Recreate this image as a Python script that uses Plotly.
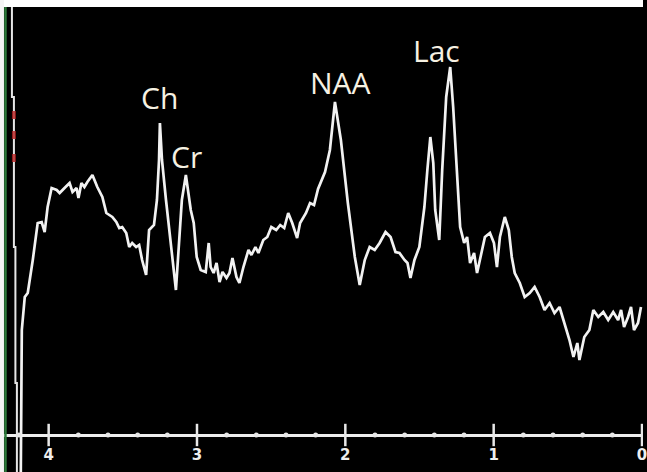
import plotly.graph_objects as go

# Chemical shift (ppm) and signal intensity (arbitrary units)
ppm = [4.188, 4.181, 4.161, 4.141, 4.107, 4.074, 4.047, 4.027, 4.007, 3.980, 3.946, 3.926,
       3.893, 3.859, 3.839, 3.812, 3.799, 3.779, 3.759, 3.739, 3.705, 3.672, 3.638, 3.611,
       3.591, 3.571, 3.544, 3.524, 3.504, 3.477, 3.457, 3.437, 3.410, 3.390, 3.370, 3.343,
       3.323, 3.290, 3.270, 3.256, 3.250, 3.236, 3.209, 3.176, 3.142, 3.102, 3.075, 3.042,
       3.022, 3.002, 2.975, 2.941, 2.921, 2.908, 2.888, 2.868, 2.848, 2.828, 2.801, 2.781,
       2.761, 2.734, 2.714, 2.687, 2.653, 2.633, 2.606, 2.586, 2.553, 2.526, 2.499, 2.466,
       2.439, 2.412, 2.385, 2.358, 2.325, 2.305, 2.265, 2.238, 2.211, 2.184,
       2.137, 2.104, 2.070, 2.030, 1.983, 1.936, 1.903, 1.869, 1.836, 1.802, 1.769, 1.729,
       1.695, 1.662, 1.635, 1.601, 1.581, 1.561, 1.534, 1.501, 1.467, 1.447, 1.427, 1.407,
       1.394, 1.367, 1.347, 1.320, 1.293, 1.273, 1.246, 1.226, 1.199, 1.179, 1.159, 1.132,
       1.112, 1.092, 1.059, 1.025, 0.998, 0.978, 0.958, 0.925, 0.898, 0.878, 0.858, 0.824,
       0.791, 0.757, 0.724, 0.690, 0.657, 0.623, 0.590, 0.556, 0.523, 0.489, 0.462, 0.436,
       0.422, 0.389, 0.355, 0.328, 0.295, 0.261, 0.228, 0.194, 0.161, 0.141, 0.121, 0.094,
       0.074, 0.054, 0.027, 0.007]
intensity = [-40, 105, 138, 142, 175, 212, 213, 203, 228, 247, 245, 242,
             247, 252, 243, 247, 237, 252, 248, 253, 260, 248, 238, 222,
             220, 218, 213, 207, 208, 202, 188, 192, 188, 190, 175, 160,
             205, 210, 235, 275, 312, 275, 235, 192, 145, 235, 260, 225,
             212, 178, 165, 163, 192, 168, 162, 172, 153, 163, 157, 162,
             177, 158, 152, 168, 185, 180, 188, 182, 195, 198, 208, 205,
             210, 207, 222, 212, 197, 212, 222, 232, 230, 246,
             263, 285, 333, 295, 232, 178, 150, 175, 188, 185, 192, 203,
             198, 183, 182, 175, 172, 157, 175, 188, 228, 265, 298, 272,
             225, 195, 265, 338, 368, 328, 255, 208, 192, 198, 172, 182,
             162, 175, 198, 202, 192, 168, 198, 218, 205, 178, 162, 152,
             138, 142, 148, 138, 125, 132, 122, 128, 112, 95, 78, 92,
             75, 98, 105, 125, 118, 123, 115, 123, 115, 125, 108, 118,
             128, 105, 112, 128]

# Peak labels
peak_names = ["Ch", "Cr", "NAA", "Lac"]
peak_ppm = [3.250, 3.069, 2.030, 1.387]
peak_label_y = [338, 279, 353, 385]

# Axis ticks
major_ticks = [4, 3, 2, 1, 0]
major_labels = ["4", "3", "2", "1", "0"]
minor_ticks = [4.2, 3.8, 3.6, 3.4, 3.2, 2.8, 2.6, 2.4, 2.2, 1.8, 1.6, 1.4, 1.2, 0.8, 0.6, 0.4, 0.2]

fig = go.Figure()

# spectrum
fig.add_trace(go.Scatter(x=ppm, y=intensity, mode="lines",
                         line=dict(color="#f2f2f2", width=2.7),
                         hoverinfo="skip", showlegend=False))

# minor tick dots on axis
fig.add_trace(go.Scatter(x=minor_ticks, y=[0] * len(minor_ticks), mode="markers",
                         marker=dict(symbol="circle", size=5, color="#e8e8e8"),
                         hoverinfo="skip", showlegend=False))
# major tick crosses on axis
fig.add_trace(go.Scatter(x=major_ticks, y=[0] * len(major_ticks), mode="markers",
                         marker=dict(symbol="line-ns", size=16,
                                     line=dict(color="#e8e8e8", width=2.5)),
                         hoverinfo="skip", showlegend=False))

for name, px, py in zip(peak_names, peak_ppm, peak_label_y):
    fig.add_annotation(x=px, y=py, text=name, showarrow=False,
                       font=dict(family="Open Sans", size=30, color="#f6f1e2"),
                       xanchor="center", yanchor="middle")

shapes = [
    # white border strips (top, left)
    dict(type="rect", xref="paper", yref="paper", x0=0, x1=1, y0=465 / 472, y1=1,
         fillcolor="white", line=dict(width=0), layer="above"),
    dict(type="rect", xref="paper", yref="paper", x0=0, x1=4 / 647, y0=0, y1=1,
         fillcolor="#f4f4f4", line=dict(width=0), layer="above"),
    # green edge line
    dict(type="line", xref="paper", yref="paper", x0=5.5 / 647, x1=5.5 / 647, y0=0, y1=465 / 472,
         line=dict(color="#2d7a3a", width=2.5)),
    # left white vertical baseline marker
    dict(type="path", xref="paper", yref="paper",
         path="M {a},{b} L {a},{c} L {d},{c} L {d},{e} L {f},{e} L {f},{g} L {h},{g} L {h},0".format(
             a=12 / 647, b=465 / 472, c=(472 - 97) / 472, d=14 / 647, e=(472 - 247) / 472,
             f=15.5 / 647, g=(472 - 383) / 472, h=17 / 647),
         line=dict(color="#e6e6e6", width=2)),
]
# red marks on the left
for yy in [115, 135, 158]:
    shapes.append(dict(type="rect", xref="paper", yref="paper",
                       x0=12 / 647, x1=16 / 647, y0=(472 - yy - 4) / 472, y1=(472 - yy + 4) / 472,
                       fillcolor="#b52020", line=dict(width=0), opacity=0.8))

fig.update_layout(
    width=647, height=472,
    margin=dict(l=0, r=0, t=0, b=0),
    paper_bgcolor="black", plot_bgcolor="black",
    shapes=shapes,
    showlegend=False,
    xaxis=dict(range=[4.328, -0.0067], showgrid=False, zeroline=False,
               showline=False, ticks="", tickvals=major_ticks, ticktext=major_labels,
               tickfont=dict(family="DejaVu Sans", size=15, color="#eeeeee", weight="bold"),
               anchor="free", position=(472 - 435) / 472, ticklabelstandoff=9,
               ticklabeloverflow="allow", fixedrange=True),
    yaxis=dict(range=[-37, 435], showgrid=False, zeroline=True, zerolinecolor="#eeeeee",
               zerolinewidth=3, showticklabels=False, ticks="", fixedrange=True),
)

fig.write_html("out.html", config={"displayModeBar": False},
               post_script="document.body.style.margin='0';document.body.style.overflow='hidden';")
